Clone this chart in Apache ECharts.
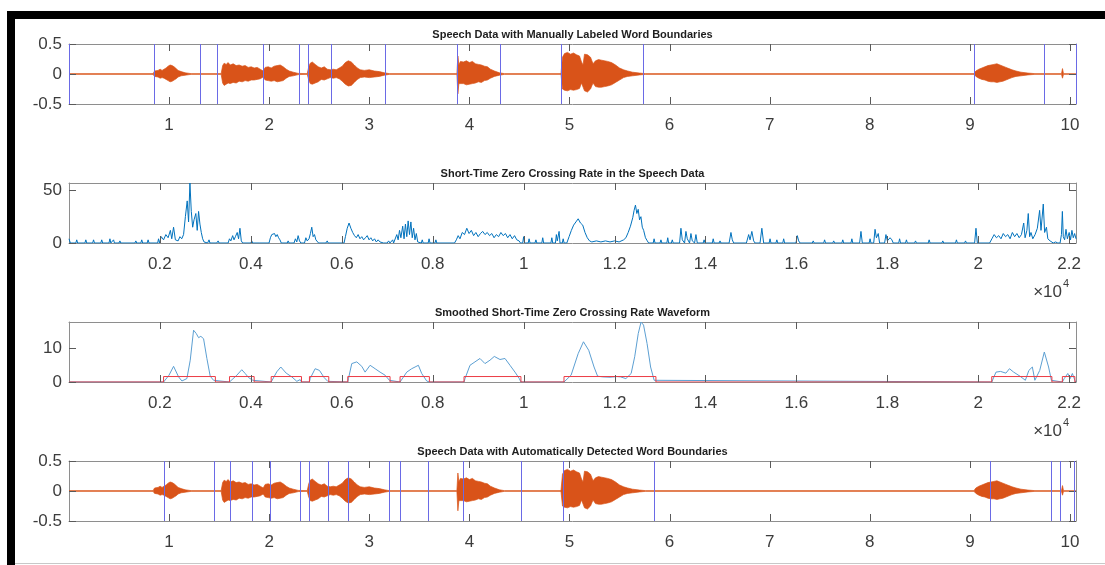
<!DOCTYPE html>
<html>
<head>
<meta charset="utf-8">
<script src="https://cdn.jsdelivr.net/npm/echarts@6/dist/echarts.min.js"></script>
<style>
  html, body { margin: 0; padding: 0; background: #ffffff; }
  #chart { width: 1105px; height: 565px; }
</style>
</head>
<body>
<div id="chart"></div>
<script>
// ---------------- data ----------------
// Speech waveform drawn as its amplitude envelope (time in seconds).
const speechTime = [
  0, 0.84, 0.855, 0.87, 0.89, 0.91, 0.93, 0.95, 0.97, 0.99, 1.01, 1.03, 1.05, 1.07, 1.09, 1.12, 1.16, 1.22,
  1.52, 1.535, 1.55, 1.57, 1.59, 1.61, 1.64, 1.67, 1.70, 1.73, 1.76, 1.79, 1.82, 1.85, 1.88, 1.91, 1.94, 1.96, 1.99, 2.02, 2.05, 2.08, 2.11, 2.14, 2.17, 2.20, 2.24, 2.29,
  2.38, 2.395, 2.41, 2.43, 2.46, 2.49, 2.52, 2.55, 2.58, 2.61, 2.64, 2.67, 2.70, 2.73, 2.76, 2.79, 2.82, 2.85, 2.88, 2.91, 2.95, 3.00, 3.05, 3.10, 3.15, 3.20,
  3.875, 3.885, 3.895, 3.91, 3.94, 3.97, 4.00, 4.03, 4.06, 4.09, 4.12, 4.15, 4.18, 4.21, 4.25, 4.30, 4.35,
  4.915, 4.93, 4.95, 4.98, 5.01, 5.04, 5.07, 5.10, 5.12, 5.135, 5.15, 5.18, 5.21, 5.235, 5.26, 5.29, 5.32, 5.35, 5.38, 5.42, 5.46, 5.50, 5.54, 5.58, 5.63, 5.70, 5.76,
  9.04, 9.06, 9.09, 9.12, 9.15, 9.18, 9.21, 9.24, 9.27, 9.30, 9.33, 9.36, 9.39, 9.42, 9.46, 9.51, 9.58, 9.65,
  9.915, 9.925, 9.935, 10.06
];
const speechUpper = [
  0.006, 0.006, 0.05, 0.07, 0.06, 0.08, 0.06, 0.08, 0.10, 0.13, 0.15, 0.14, 0.12, 0.09, 0.06, 0.04, 0.02, 0.006,
  0.006, 0.14, 0.18, 0.16, 0.19, 0.15, 0.17, 0.14, 0.15, 0.13, 0.14, 0.11, 0.12, 0.10, 0.11, 0.08, 0.05, 0.11, 0.12, 0.10, 0.13, 0.14, 0.15, 0.12, 0.08, 0.05, 0.03, 0.01,
  0.006, 0.12, 0.18, 0.20, 0.16, 0.12, 0.10, 0.12, 0.08, 0.07, 0.08, 0.07, 0.10, 0.13, 0.19, 0.22, 0.20, 0.15, 0.10, 0.07, 0.06, 0.07, 0.05, 0.04, 0.02, 0.006,
  0.006, 0.30, 0.15, 0.21, 0.20, 0.22, 0.19, 0.21, 0.17, 0.16, 0.15, 0.13, 0.12, 0.08, 0.05, 0.02, 0.006,
  0.006, 0.28, 0.34, 0.36, 0.33, 0.35, 0.32, 0.30, 0.20, 0.15, 0.33, 0.32, 0.28, 0.17, 0.22, 0.24, 0.23, 0.22, 0.21, 0.19, 0.15, 0.10, 0.07, 0.05, 0.03, 0.015, 0.006,
  0.006, 0.05, 0.08, 0.10, 0.12, 0.14, 0.15, 0.16, 0.17, 0.15, 0.13, 0.11, 0.09, 0.07, 0.05, 0.03, 0.015, 0.006,
  0.006, 0.09, 0.006, 0.006
];
const speechLower = [
  -0.006, -0.006, -0.04, -0.06, -0.05, -0.07, -0.06, -0.07, -0.09, -0.11, -0.13, -0.12, -0.10, -0.08, -0.05, -0.03, -0.02, -0.006,
  -0.006, -0.15, -0.19, -0.17, -0.15, -0.16, -0.14, -0.15, -0.12, -0.13, -0.11, -0.12, -0.10, -0.10, -0.09, -0.08, -0.05, -0.10, -0.11, -0.12, -0.11, -0.13, -0.12, -0.11, -0.07, -0.04, -0.03, -0.01,
  -0.006, -0.10, -0.16, -0.17, -0.15, -0.13, -0.09, -0.10, -0.08, -0.06, -0.07, -0.06, -0.08, -0.12, -0.17, -0.20, -0.19, -0.14, -0.09, -0.06, -0.05, -0.06, -0.05, -0.04, -0.02, -0.006,
  -0.006, -0.33, -0.16, -0.17, -0.16, -0.18, -0.17, -0.16, -0.15, -0.13, -0.14, -0.11, -0.10, -0.07, -0.04, -0.02, -0.006,
  -0.006, -0.25, -0.27, -0.28, -0.26, -0.27, -0.26, -0.24, -0.15, -0.12, -0.28, -0.30, -0.25, -0.15, -0.21, -0.22, -0.22, -0.21, -0.20, -0.18, -0.14, -0.10, -0.06, -0.04, -0.03, -0.015, -0.006,
  -0.006, -0.04, -0.07, -0.09, -0.10, -0.12, -0.13, -0.13, -0.14, -0.13, -0.12, -0.10, -0.08, -0.06, -0.04, -0.03, -0.015, -0.006,
  -0.006, -0.07, -0.006, -0.006
];

// Word boundaries (seconds)
const manualBounds = [0, 0.85, 1.313, 1.483, 1.943, 2.30, 2.393, 2.617, 3.157, 3.883, 4.31, 4.923, 5.74, 9.04, 9.743, 10.06];
const autoBounds = [0.947, 1.446, 1.607, 1.832, 2.007, 2.312, 2.40, 2.586, 2.789, 3.20, 3.312, 3.586, 3.944, 4.519, 4.94, 5.852, 9.20, 9.806, 9.90, 10.04];

// Short-time zero crossing rate: [frame, rate]
const zcrPoints = [
  [0,4],[30,0],[150,0],[170,3],[190,0],[350,0],[370,3],[390,0],[520,0],[540,3],[560,0],[700,0],[720,3],[740,0],
  [880,0],[900,4],[920,0],[960,0],[980,3],[1000,0],[1100,0],[1120,2],[1140,0],[1450,0],[1470,2],[1490,0],
  [1580,0],[1600,3],[1620,0],[1720,0],[1740,3],[1760,0],[1950,0],[1970,4],[1990,0],
  [2030,6],[2080,3],[2130,8],[2180,5],[2230,12],[2260,4],[2300,15],[2340,3],[2400,2],[2440,6],[2480,4],
  [2520,8],[2560,25],[2600,40],[2630,20],[2660,57],[2690,30],[2720,15],[2750,22],[2790,28],[2820,12],[2850,30],[2880,18],[2910,10],[2940,4],[2970,1],
  [3050,0],[3080,3],[3100,0],[3250,0],[3280,2],[3300,0],
  [3500,0],[3530,4],[3560,2],[3600,7],[3630,3],[3660,6],[3700,10],[3730,4],[3760,14],[3790,2],[3820,0],
  [4000,0],[4020,2],[4040,0],[4200,0],[4220,1],[4240,0],
  [4400,0],[4430,5],[4460,8],[4490,7],[4520,9],[4550,6],[4580,8],[4610,5],[4640,3],[4670,0],
  [4800,0],[4820,2],[4840,0],
  [4950,0],[4980,4],[5010,1],[5040,7],[5070,2],[5100,0],[5180,0],[5210,5],[5240,2],
  [5280,4],[5310,9],[5340,15],[5370,6],[5400,8],[5430,3],[5460,2],[5490,0],
  [5650,0],[5680,2],[5700,0],
  [6050,0],[6080,6],[6120,14],[6160,19],[6200,14],[6240,10],[6280,7],[6320,5],[6360,8],[6400,4],[6440,6],[6480,3],[6520,5],[6560,7],[6600,3],[6640,5],[6680,2],[6720,4],[6760,1],[6800,3],[6840,1],[6880,2],[6920,0],
  [7000,0],[7030,2],[7060,0],[7120,3],[7140,0],
  [7180,0],[7210,8],[7240,3],[7270,12],[7300,5],[7340,16],[7370,4],[7400,18],[7430,6],[7460,21],[7490,8],[7520,20],[7550,5],[7580,14],[7610,3],[7640,9],[7670,1],
  [7750,0],[7770,3],[7790,0],[7900,0],[7920,4],[7940,0],[8050,0],[8070,3],[8090,0],
  [8480,0],[8520,3],[8560,7],[8600,4],[8650,10],[8700,8],[8750,14],[8800,9],[8850,12],[8900,7],[8950,10],[9000,6],[9050,9],[9100,11],[9150,8],[9200,10],[9250,7],[9300,9],[9350,5],[9400,8],
  [9450,6],[9500,10],[9550,7],[9600,9],[9650,5],[9700,8],[9750,4],[9800,7],[9850,3],[9900,2],[9930,0],
  [9980,0],[10000,6],[10020,0],[10100,0],[10120,4],[10140,0],[10250,0],[10270,3],[10290,0],[10400,0],[10420,5],[10440,0],
  [10600,0],[10620,5],[10640,0],[10700,0],[10720,8],[10740,2],[10780,11],[10800,0],[10850,0],[10870,4],[10890,0],
  [10950,0],[11000,6],[11050,12],[11100,17],[11150,20],[11200,23],[11250,19],[11300,17],[11350,10],[11400,5],[11450,2],
  [11500,1],[11600,2],[11700,1],[11800,2],[11900,1],[12000,2],[12100,1],[12200,3],
  [12250,5],[12300,10],[12350,16],[12400,24],[12430,31],[12460,36],[12490,28],[12520,32],[12550,22],[12580,25],[12610,15],[12640,12],[12680,5],[12720,2],[12750,0],
  [12850,0],[12870,4],[12890,0],[13000,0],[13020,3],[13040,0],[13150,0],[13170,5],[13190,0],[13250,0],[13270,3],[13290,0],
  [13430,0],[13460,14],[13490,3],[13540,0],[13570,11],[13600,4],[13650,0],[13680,9],[13710,2],[13760,0],[13790,8],[13820,0],
  [13950,0],[13970,3],[13990,0],[14150,0],[14170,4],[14190,0],[14300,0],[14320,2],[14340,0],
  [14520,0],[14560,10],[14590,3],[14620,0],
  [14900,0],[14950,8],[14980,3],[15020,11],[15060,2],[15090,0],
  [15200,0],[15240,14],[15280,0],
  [15400,0],[15420,4],[15440,0],[15550,0],[15570,3],[15590,0],[15700,0],[15720,4],[15740,0],
  [15990,0],[16020,7],[16050,2],[16080,0],
  [16350,0],[16370,2],[16390,0],[16600,0],[16620,3],[16640,0],[16800,0],[16820,2],[16840,0],[17000,0],[17020,3],[17040,0],[17200,0],[17220,4],[17240,0],
  [17390,0],[17420,11],[17450,0],
  [17600,0],[17620,4],[17640,0],[17700,0],[17730,13],[17760,5],[17800,9],[17830,0],
  [17940,0],[17970,8],[18000,2],[18060,5],[18100,3],[18130,0],
  [18250,0],[18270,4],[18290,0],[18400,0],[18420,3],[18440,0],[18600,0],[18620,2],[18640,0],[18900,0],[18920,3],[18940,0],
  [19200,0],[19220,2],[19240,0],[19500,0],[19520,3],[19540,0],[19700,0],[19720,2],[19740,0],
  [19920,0],[19950,14],[19980,0],
  [20250,0],[20300,4],[20350,8],[20400,5],[20450,7],[20500,4],[20550,9],[20600,6],[20650,8],[20700,4],[20750,10],[20800,6],[20850,9],[20900,5],
  [20950,8],[21000,19],[21030,5],[21070,12],[21100,28],[21130,6],[21160,10],
  [21200,4],[21250,8],[21300,14],[21350,31],[21380,12],[21430,37],[21460,10],[21500,15],[21530,4],[21580,2],[21650,0],[21700,1],[21750,0],
  [21800,0],[21830,8],[21850,30],[21870,6],[21900,3],[21930,13],[21960,4],[22000,10],[22030,3],[22060,12],[22090,5],[22120,9],[22150,4]
];

// Smoothed zero crossing rate: [frame, rate]
const smoothPoints = [
  [0,0],[2080,0],[2200,2],[2300,4.6],[2410,1.5],[2484,0.3],[2593,1],[2667,6.4],[2740,15.2],[2800,14.2],[2850,13],[2900,13.4],[2960,12.7],[3033,6.9],[3106,1.7],[3180,0.5],[3220,0],
  [3530,0],[3546,0.3],[3692,2],[3800,3.6],[3875,2.5],[3950,1.3],[4044,0.5],[4073,0],
  [4447,0],[4462,0.5],[4571,3],[4659,4.4],[4777,2.6],[4901,1.5],[5011,0.2],[5084,0.7],[5114,0],
  [5289,0],[5304,1],[5414,3.9],[5509,3.4],[5612,1.3],[5692,0.2],[5714,0],
  [6132,0],[6147,1],[6220,5.4],[6330,5.9],[6440,4.6],[6513,2.9],[6623,4.9],[6733,3.9],[6842,2.9],[6952,2],[7048,0.5],[7062,0],
  [7282,0],[7297,0.5],[7429,2.9],[7538,3.9],[7612,4.4],[7685,4.9],[7758,2.5],[7868,0.3],[7927,0],
  [8689,0],[8711,1],[8820,4.9],[8930,5.9],[9040,6.9],[9150,5.4],[9260,6.4],[9355,7.5],[9480,6.6],[9590,6.9],[9700,4.9],[9810,2.9],[9905,1],[9941,0],
  [10888,0],[10927,0.5],[11044,2],[11199,8.3],[11316,11.8],[11432,9.3],[11549,4.4],[11627,1.7],[11743,1.5],[11900,1.4],[12050,1.6],[12132,1.5],[12249,1],[12365,2.5],[12443,7.4],[12521,14.2],[12583,17.6],[12638,16.7],[12715,11.3],[12793,4.4],[12871,0.5],[12910,0],
  [20297,0],[20313,0.5],[20390,2.9],[20491,3.1],[20608,2.6],[20686,3.9],[20779,2.9],[20919,1.7],[21036,0.5],[21113,3.4],[21190,4.4],[21245,0.5],[21352,3.4],[21453,8.8],[21547,4.4],[21609,0.5],[21620,0],
  [21850,0],[21891,1],[21969,2.5],[22023,1],[22070,2.5],[22125,0.5],[22150,0]
];

// Detected word regions [startFrame, endFrame] and the indicator level
const wordRegions = [
  [2080,3220],[3531,4073],[4447,5114],[5289,5714],[6132,7062],[7282,7927],[8689,9941],
  [10888,12910],[20297,21620],[21850,22125]
];
const wordLevel = 1.6;

// Tick values for each plot
const secondTicks = [1, 2, 3, 4, 5, 6, 7, 8, 9, 10];
const frameTicks = [2000, 4000, 6000, 8000, 10000, 12000, 14000, 16000, 18000, 20000, 22000];
const ampTicks = [-0.5, 0, 0.5];
const zcrTicks = [0, 50];
const smoothTicks = [0, 10];

const plotTitles = [
  'Speech Data with Manually Labeled Word Boundaries',
  'Short-Time Zero Crossing Rate in the Speech Data',
  'Smoothed Short-Time Zero Crossing Rate Waveform',
  'Speech Data with Automatically Detected Word Boundaries'
];

// ---------------- chart ----------------
const FONT = 'Liberation Sans, Arial, Helvetica, sans-serif';
const AXIS_GRAY = '#8e8e8e';
const TICK_GRAY = '#5a5a5a';
const LABEL_GRAY = '#3c3c3c';
const plotTops = [44, 183, 322, 461];
const PLOT_LEFT = 69, PLOT_W = 1007, PLOT_H = 60;
const TICK_LEN = 7;

const secondsMax = 10.06;
const framesMax = 22150;

const speechUp = speechTime.map((t, i) => [t, speechUpper[i]]);
const speechLo = speechTime.map((t, i) => [t, speechLower[i]]);

const wordLine = [[0, 0]];
wordRegions.forEach(([a, b]) => {
  wordLine.push([a, 0], [a, wordLevel], [b, wordLevel], [b, 0]);
});
wordLine.push([framesMax, 0]);

const fmtSeconds = v => (v > 0 && Math.abs(v - Math.round(v)) < 1e-6) ? String(Math.round(v)) : '';
const fmtFrames = v => (v > 0 && Math.abs(v % 2000) < 1e-6) ? String(v / 10000) : '';

function axisBase(gi, min, max, interval) {
  return {
    type: 'value', gridIndex: gi, min: min, max: max, interval: interval,
    splitLine: { show: false },
    axisLine: { show: true, onZero: false, lineStyle: { color: AXIS_GRAY } },
    axisTick: { show: false }
  };
}
function xPair(gi, max, interval, fmt) {
  return [
    Object.assign(axisBase(gi, 0, max, interval), {
      position: 'bottom',
      axisLabel: { show: true, formatter: fmt, fontSize: 17, fontFamily: FONT, color: LABEL_GRAY, margin: 13 }
    }),
    Object.assign(axisBase(gi, 0, max, interval), { position: 'top', axisLabel: { show: false } })
  ];
}
function yPair(gi, min, max, interval, fmt) {
  return [
    Object.assign(axisBase(gi, min, max, interval), {
      position: 'left',
      axisLabel: { show: true, formatter: fmt, fontSize: 17, fontFamily: FONT, color: LABEL_GRAY, margin: 7 }
    }),
    Object.assign(axisBase(gi, min, max, interval), { position: 'right', axisLabel: { show: false } })
  ];
}

const fmtAmp = v => (Math.abs(v) < 1e-9 ? '0' : (Math.abs(Math.abs(v) - 0.5) < 1e-9 ? String(v) : ''));
const fmtStep = step => v => (Math.abs(v % step) < 1e-9 ? String(v) : '');

const xAxis = [].concat(
  xPair(0, secondsMax, 1, fmtSeconds),
  xPair(1, framesMax, 2000, fmtFrames),
  xPair(2, framesMax, 2000, fmtFrames),
  xPair(3, secondsMax, 1, fmtSeconds)
);
const yAxis = [].concat(
  yPair(0, -0.5, 0.5, 0.5, fmtAmp),
  yPair(1, 0, 57, 50, fmtStep(50)),
  yPair(2, 0, 17.6, 10, fmtStep(10)),
  yPair(3, -0.5, 0.5, 0.5, fmtAmp)
);

const ORANGE = '#D95319';
function boundaryLines(bounds) {
  return {
    symbol: ['none', 'none'], silent: true, animation: false,
    label: { show: false },
    emphasis: { disabled: true },
    lineStyle: { color: '#6a6ae6', width: 1, type: 'solid', opacity: 1 },
    data: bounds.map(x => ({ xAxis: x }))
  };
}
function waveSeries(gi, bounds) {
  const common = () => ({
    type: 'line', xAxisIndex: gi * 2, yAxisIndex: gi * 2, symbol: 'none', silent: true,
    lineStyle: { color: ORANGE, width: 0.7 }, areaStyle: { color: ORANGE, opacity: 1 },
    itemStyle: { color: ORANGE }, z: 2
  });
  return [
    Object.assign(common(), { data: speechUp, markLine: boundaryLines(bounds) }),
    Object.assign(common(), { data: speechLo })
  ];
}

const series = [].concat(
  waveSeries(0, manualBounds),
  [{
    type: 'line', xAxisIndex: 2, yAxisIndex: 2, symbol: 'none', silent: true,
    data: zcrPoints, lineStyle: { color: '#0072BD', width: 1 }, itemStyle: { color: '#0072BD' }
  }],
  [{
    type: 'line', xAxisIndex: 4, yAxisIndex: 4, symbol: 'none', silent: true,
    data: smoothPoints, lineStyle: { color: '#5c9fd2', width: 1 }, itemStyle: { color: '#5c9fd2' }, z: 2
  }, {
    type: 'line', xAxisIndex: 4, yAxisIndex: 4, symbol: 'none', silent: true,
    data: wordLine, lineStyle: { color: '#ec3b45', width: 1 }, itemStyle: { color: '#ec3b45' }, z: 3
  }],
  waveSeries(3, autoBounds)
);

const graphic = [
  // frame bars
  { type: 'rect', shape: { x: 7, y: 11, width: 1098, height: 8 }, style: { fill: '#000000' }, z: 10 },
  { type: 'rect', shape: { x: 7, y: 11, width: 8, height: 554 }, style: { fill: '#000000' }, z: 10 },
  { type: 'rect', shape: { x: 15, y: 563, width: 1090, height: 1 }, style: { fill: '#c8c8c8' }, z: 10 }
];
plotTitles.forEach((t, i) => {
  graphic.push({
    type: 'text', x: PLOT_LEFT + PLOT_W / 2, y: plotTops[i] - 9, z: 10,
    style: { text: t, fill: '#1e1e1e', font: 'bold 11px ' + FONT, textAlign: 'center', textVerticalAlign: 'middle' }
  });
});
[1, 2].forEach(i => {
  const yb = plotTops[i] + PLOT_H + 49;
  graphic.push({
    type: 'text', x: 1062, y: yb, z: 10,
    style: { text: '\u00d710', fill: LABEL_GRAY, font: '17px ' + FONT, textAlign: 'right', textVerticalAlign: 'middle' }
  });
  graphic.push({
    type: 'text', x: 1063, y: yb - 8, z: 10,
    style: { text: '4', fill: LABEL_GRAY, font: '11px ' + FONT, textAlign: 'left', textVerticalAlign: 'middle' }
  });
});

const chart = echarts.init(document.getElementById('chart'));
chart.setOption({
  animation: false,
  grid: plotTops.map(top => ({ left: PLOT_LEFT, top: top, width: PLOT_W, height: PLOT_H })),
  xAxis: xAxis,
  yAxis: yAxis,
  series: series,
  graphic: graphic
});

// Inward tick marks on all four sides of each plot, placed through the axis scales.
const tickSets = [
  { x: secondTicks, y: ampTicks },
  { x: frameTicks, y: zcrTicks },
  { x: frameTicks, y: smoothTicks },
  { x: secondTicks, y: ampTicks }
];
const tickMarks = [];
tickSets.forEach((set, gi) => {
  const top = plotTops[gi], bottom = top + PLOT_H;
  const left = PLOT_LEFT, right = PLOT_LEFT + PLOT_W;
  const tickStyle = { stroke: TICK_GRAY, lineWidth: 1 };
  set.x.forEach(v => {
    const px = Math.round(chart.convertToPixel({ xAxisIndex: gi * 2 }, v)) + 0.5;
    tickMarks.push({ type: 'line', silent: true, z: 5, shape: { x1: px, y1: bottom, x2: px, y2: bottom - TICK_LEN }, style: tickStyle });
    tickMarks.push({ type: 'line', silent: true, z: 5, shape: { x1: px, y1: top, x2: px, y2: top + TICK_LEN }, style: tickStyle });
  });
  set.y.forEach(v => {
    const py = Math.round(chart.convertToPixel({ yAxisIndex: gi * 2 }, v)) + 0.5;
    tickMarks.push({ type: 'line', silent: true, z: 5, shape: { x1: left, y1: py, x2: left + TICK_LEN, y2: py }, style: tickStyle });
    tickMarks.push({ type: 'line', silent: true, z: 5, shape: { x1: right, y1: py, x2: right - TICK_LEN, y2: py }, style: tickStyle });
  });
});
chart.setOption({ graphic: graphic.concat(tickMarks) });
</script>
</body>
</html>
